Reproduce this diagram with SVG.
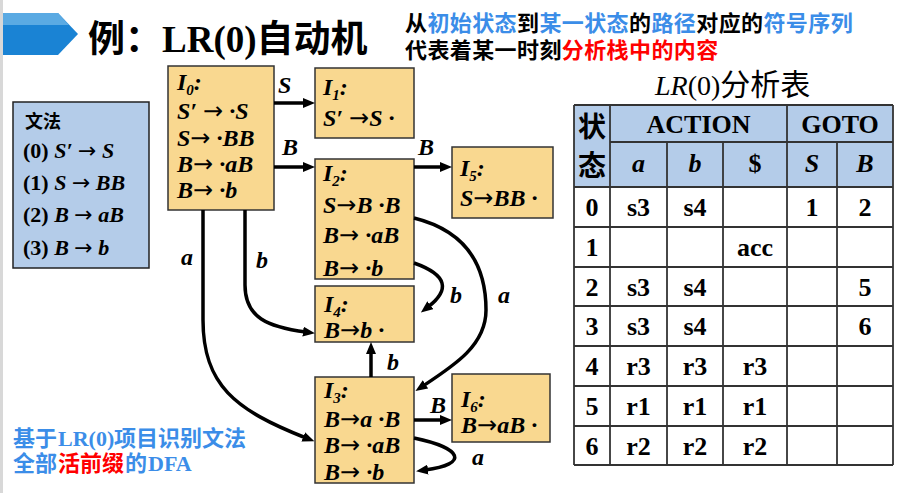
<svg xmlns="http://www.w3.org/2000/svg" width="903" height="493" viewBox="0 0 903 493">
<style>
.node rect{fill:#f9d890;stroke:#333;stroke-width:1.5}
.nt{font-family:"Liberation Serif",serif;font-weight:bold;font-style:italic;font-size:24px;fill:#000}
.sub{font-size:15px}
.ar{font-family:"DejaVu Sans",sans-serif;font-style:normal;font-weight:normal}
.lbl{font-family:"Liberation Serif",serif;font-weight:bold;font-style:italic;font-size:24px;fill:#000}
.edge path{fill:none;stroke:#000;stroke-width:3.5}
.cjk{font-family:"Noto Sans CJK SC",sans-serif;font-weight:bold}
.ser{font-family:"Liberation Serif","Noto Sans CJK SC",serif;font-weight:bold}
.blue{fill:#3b8de8}
.red{fill:#ff0000}
.tb line{stroke:#333;stroke-width:1.8}
.tc{font-family:"Liberation Serif",serif;font-weight:bold;font-size:26px;text-anchor:middle}
.gr{font-family:"Liberation Serif",serif;font-weight:bold;font-size:22px}
</style>
<defs>
<marker id="ah" viewBox="0 0 12 10" refX="3" refY="5" markerWidth="12" markerHeight="10" markerUnits="userSpaceOnUse" orient="auto">
<path d="M0,0 L12,5 L0,10 z" fill="#000"/>
</marker>
</defs>
<rect x="0" y="0" width="903" height="493" fill="#fff"/>
<rect x="0" y="0" width="3" height="493" fill="#d8d8d8"/>
<g id="banner">
<polygon points="3,13 58,13 78,34 58,55 3,55" fill="#1a83d4"/>
<polygon points="3,13 58,13 69,25 3,25" fill="#5aaae3"/>
</g>
<text x="88" y="52" font-size="37"><tspan class="cjk">例：</tspan><tspan class="ser">LR(0)</tspan><tspan class="cjk">自动机</tspan></text>
<text class="cjk" x="405" y="31" font-size="22" letter-spacing="0.4">从<tspan class="blue">初始状态</tspan>到<tspan class="blue">某一状态</tspan>的<tspan class="blue">路径</tspan>对应的<tspan class="blue">符号序列</tspan></text>
<text class="cjk" x="405" y="58" font-size="22" letter-spacing="0.4">代表着某一时刻<tspan class="red">分析栈中的内容</tspan></text>

<g id="grammar">
<rect x="13" y="102" width="136" height="166" fill="#b4cce9" stroke="#222" stroke-width="1.5"/>
<text class="cjk" x="25" y="128" font-size="18">文法</text>
<text class="gr" x="23" y="158">(0) <tspan font-style="italic">S′ <tspan class="ar">→</tspan> S</tspan></text>
<text class="gr" x="23" y="190">(1) <tspan font-style="italic">S <tspan class="ar">→</tspan> BB</tspan></text>
<text class="gr" x="23" y="222">(2) <tspan font-style="italic">B <tspan class="ar">→</tspan> aB</tspan></text>
<text class="gr" x="23" y="255">(3) <tspan font-style="italic">B <tspan class="ar">→</tspan> b</tspan></text>
</g>

<g id="I0" class="node">
<rect x="168" y="66" width="106" height="144"/>
<text class="nt" x="177" y="90">I<tspan class="sub" dy="5">0</tspan><tspan dy="-5">:</tspan></text>
<text class="nt" x="177" y="119">S′ <tspan class="ar">→</tspan> ·S</text>
<text class="nt" x="177" y="146">S<tspan class="ar">→</tspan> ·BB</text>
<text class="nt" x="177" y="172">B<tspan class="ar">→</tspan> ·aB</text>
<text class="nt" x="177" y="198">B<tspan class="ar">→</tspan> ·b</text>
</g>
<g id="I1" class="node">
<rect x="315" y="68" width="99" height="70"/>
<text class="nt" x="323" y="95">I<tspan class="sub" dy="5">1</tspan><tspan dy="-5">:</tspan></text>
<text class="nt" x="323" y="126">S′ <tspan class="ar">→</tspan>S ·</text>
</g>
<g id="I2" class="node">
<rect x="315" y="159" width="99" height="120"/>
<text class="nt" x="323" y="181">I<tspan class="sub" dy="5">2</tspan><tspan dy="-5">:</tspan></text>
<text class="nt" x="323" y="213">S<tspan class="ar">→</tspan>B ·B</text>
<text class="nt" x="323" y="243">B<tspan class="ar">→</tspan> ·aB</text>
<text class="nt" x="323" y="276">B<tspan class="ar">→</tspan> ·b</text>
</g>
<g id="I5" class="node">
<rect x="452" y="147" width="101" height="71"/>
<text class="nt" x="460" y="176">I<tspan class="sub" dy="5">5</tspan><tspan dy="-5">:</tspan></text>
<text class="nt" x="460" y="206">S<tspan class="ar">→</tspan>BB ·</text>
</g>
<g id="I4" class="node">
<rect x="315" y="286" width="99" height="56"/>
<text class="nt" x="324" y="312">I<tspan class="sub" dy="5">4</tspan><tspan dy="-5">:</tspan></text>
<text class="nt" x="324" y="338">B<tspan class="ar">→</tspan>b ·</text>
</g>
<g id="I3" class="node">
<rect x="315" y="377" width="99" height="106"/>
<text class="nt" x="324" y="398">I<tspan class="sub" dy="5">3</tspan><tspan dy="-5">:</tspan></text>
<text class="nt" x="324" y="427">B<tspan class="ar">→</tspan>a ·B</text>
<text class="nt" x="324" y="453">B<tspan class="ar">→</tspan> ·aB</text>
<text class="nt" x="324" y="480">B<tspan class="ar">→</tspan> ·b</text>
</g>
<g id="I6" class="node">
<rect x="452" y="374" width="98" height="68"/>
<text class="nt" x="461" y="407">I<tspan class="sub" dy="5">6</tspan><tspan dy="-5">:</tspan></text>
<text class="nt" x="461" y="433">B<tspan class="ar">→</tspan>aB ·</text>
</g>

<g id="connectors" class="edge">
<path d="M274,103 H306" marker-end="url(#ah)"/>
<path d="M274,167 H306" marker-end="url(#ah)"/>
<path d="M414,167 H443" marker-end="url(#ah)"/>
<path d="M203,210 L203,320 C203,385 235,410 306,438" marker-end="url(#ah)"/>
<path d="M245,210 L245,285 C245,318 268,327 306,332" marker-end="url(#ah)"/>
<path d="M414,263 C448,275 450,290 428,307" marker-end="url(#ah)"/>
<path d="M414,218 C470,232 486,270 486,310 C486,345 455,365 423,386" marker-end="url(#ah)"/>
<path d="M371,377 V351" marker-end="url(#ah)"/>
<path d="M414,420 H443" marker-end="url(#ah)"/>
<path d="M414,438 C462,448 470,464 425,470" marker-end="url(#ah)"/>
</g>
<g id="edge-labels">
<text class="lbl" x="278" y="93">S</text>
<text class="lbl" x="282" y="155">B</text>
<text class="lbl" x="418" y="155">B</text>
<text class="lbl" x="181" y="265">a</text>
<text class="lbl" x="256" y="268">b</text>
<text class="lbl" x="450" y="303">b</text>
<text class="lbl" x="498" y="303">a</text>
<text class="lbl" x="387" y="370">b</text>
<text class="lbl" x="430" y="413">B</text>
<text class="lbl" x="472" y="465">a</text>
</g>

<g id="table">
<text x="655" y="95" font-size="28"><tspan font-family="Liberation Serif, serif" font-style="italic">LR</tspan><tspan font-family="Liberation Serif, serif">(0)</tspan><tspan font-family="Noto Sans CJK SC, sans-serif" font-size="30">分析表</tspan></text>
<rect x="574" y="105" width="319" height="82" fill="#b4cce9"/>
<rect x="574" y="187" width="319" height="278" fill="#fff"/>
<g class="tb">
<line x1="574" y1="105" x2="893" y2="105"/>
<line x1="610" y1="142" x2="893" y2="142"/>
<line x1="574" y1="187" x2="893" y2="187"/>
<line x1="574" y1="227" x2="893" y2="227"/>
<line x1="574" y1="267" x2="893" y2="267"/>
<line x1="574" y1="306" x2="893" y2="306"/>
<line x1="574" y1="346" x2="893" y2="346"/>
<line x1="574" y1="386" x2="893" y2="386"/>
<line x1="574" y1="426" x2="893" y2="426"/>
<line x1="574" y1="465" x2="893" y2="465"/>
<line x1="574" y1="105" x2="574" y2="465"/>
<line x1="610" y1="105" x2="610" y2="465"/>
<line x1="667" y1="142" x2="667" y2="465"/>
<line x1="723" y1="142" x2="723" y2="465"/>
<line x1="787" y1="105" x2="787" y2="465"/>
<line x1="837" y1="142" x2="837" y2="465"/>
<line x1="893" y1="105" x2="893" y2="465"/>
</g>
<text class="cjk" x="592" y="137" font-size="28" text-anchor="middle">状</text>
<text class="cjk" x="592" y="176" font-size="28" text-anchor="middle">态</text>
<text class="tc" x="698.5" y="133" font-size="24">ACTION</text>
<text class="tc" x="840" y="133" font-size="24">GOTO</text>
<text class="tc" x="638.5" y="172" font-style="italic">a</text>
<text class="tc" x="695" y="172" font-style="italic">b</text>
<text class="tc" x="755" y="172">$</text>
<text class="tc" x="812" y="172" font-style="italic">S</text>
<text class="tc" x="865" y="172" font-style="italic">B</text>
<text class="tc" x="592" y="216">0</text><text class="tc" x="638.5" y="216">s3</text><text class="tc" x="695" y="216">s4</text><text class="tc" x="812" y="216">1</text><text class="tc" x="865" y="216">2</text>
<text class="tc" x="592" y="256">1</text><text class="tc" x="755" y="256">acc</text>
<text class="tc" x="592" y="295.5">2</text><text class="tc" x="638.5" y="295.5">s3</text><text class="tc" x="695" y="295.5">s4</text><text class="tc" x="865" y="295.5">5</text>
<text class="tc" x="592" y="335">3</text><text class="tc" x="638.5" y="335">s3</text><text class="tc" x="695" y="335">s4</text><text class="tc" x="865" y="335">6</text>
<text class="tc" x="592" y="375">4</text><text class="tc" x="638.5" y="375">r3</text><text class="tc" x="695" y="375">r3</text><text class="tc" x="755" y="375">r3</text>
<text class="tc" x="592" y="415">5</text><text class="tc" x="638.5" y="415">r1</text><text class="tc" x="695" y="415">r1</text><text class="tc" x="755" y="415">r1</text>
<text class="tc" x="592" y="454.5">6</text><text class="tc" x="638.5" y="454.5">r2</text><text class="tc" x="695" y="454.5">r2</text><text class="tc" x="755" y="454.5">r2</text>
</g>

<g id="caption">
<text class="cjk blue" x="13" y="446" font-size="22">基于</text>
<text class="ser blue" x="58" y="446" font-size="22">LR(0)</text>
<text class="cjk blue" x="114" y="446" font-size="22">项目识别文法</text>
<text class="cjk blue" x="13" y="471" font-size="22">全部</text>
<text class="cjk red" x="58" y="471" font-size="22">活前缀</text>
<text class="cjk blue" x="125" y="471" font-size="22">的</text>
<text class="ser blue" x="148" y="471" font-size="22">DFA</text>
</g>
</svg>
